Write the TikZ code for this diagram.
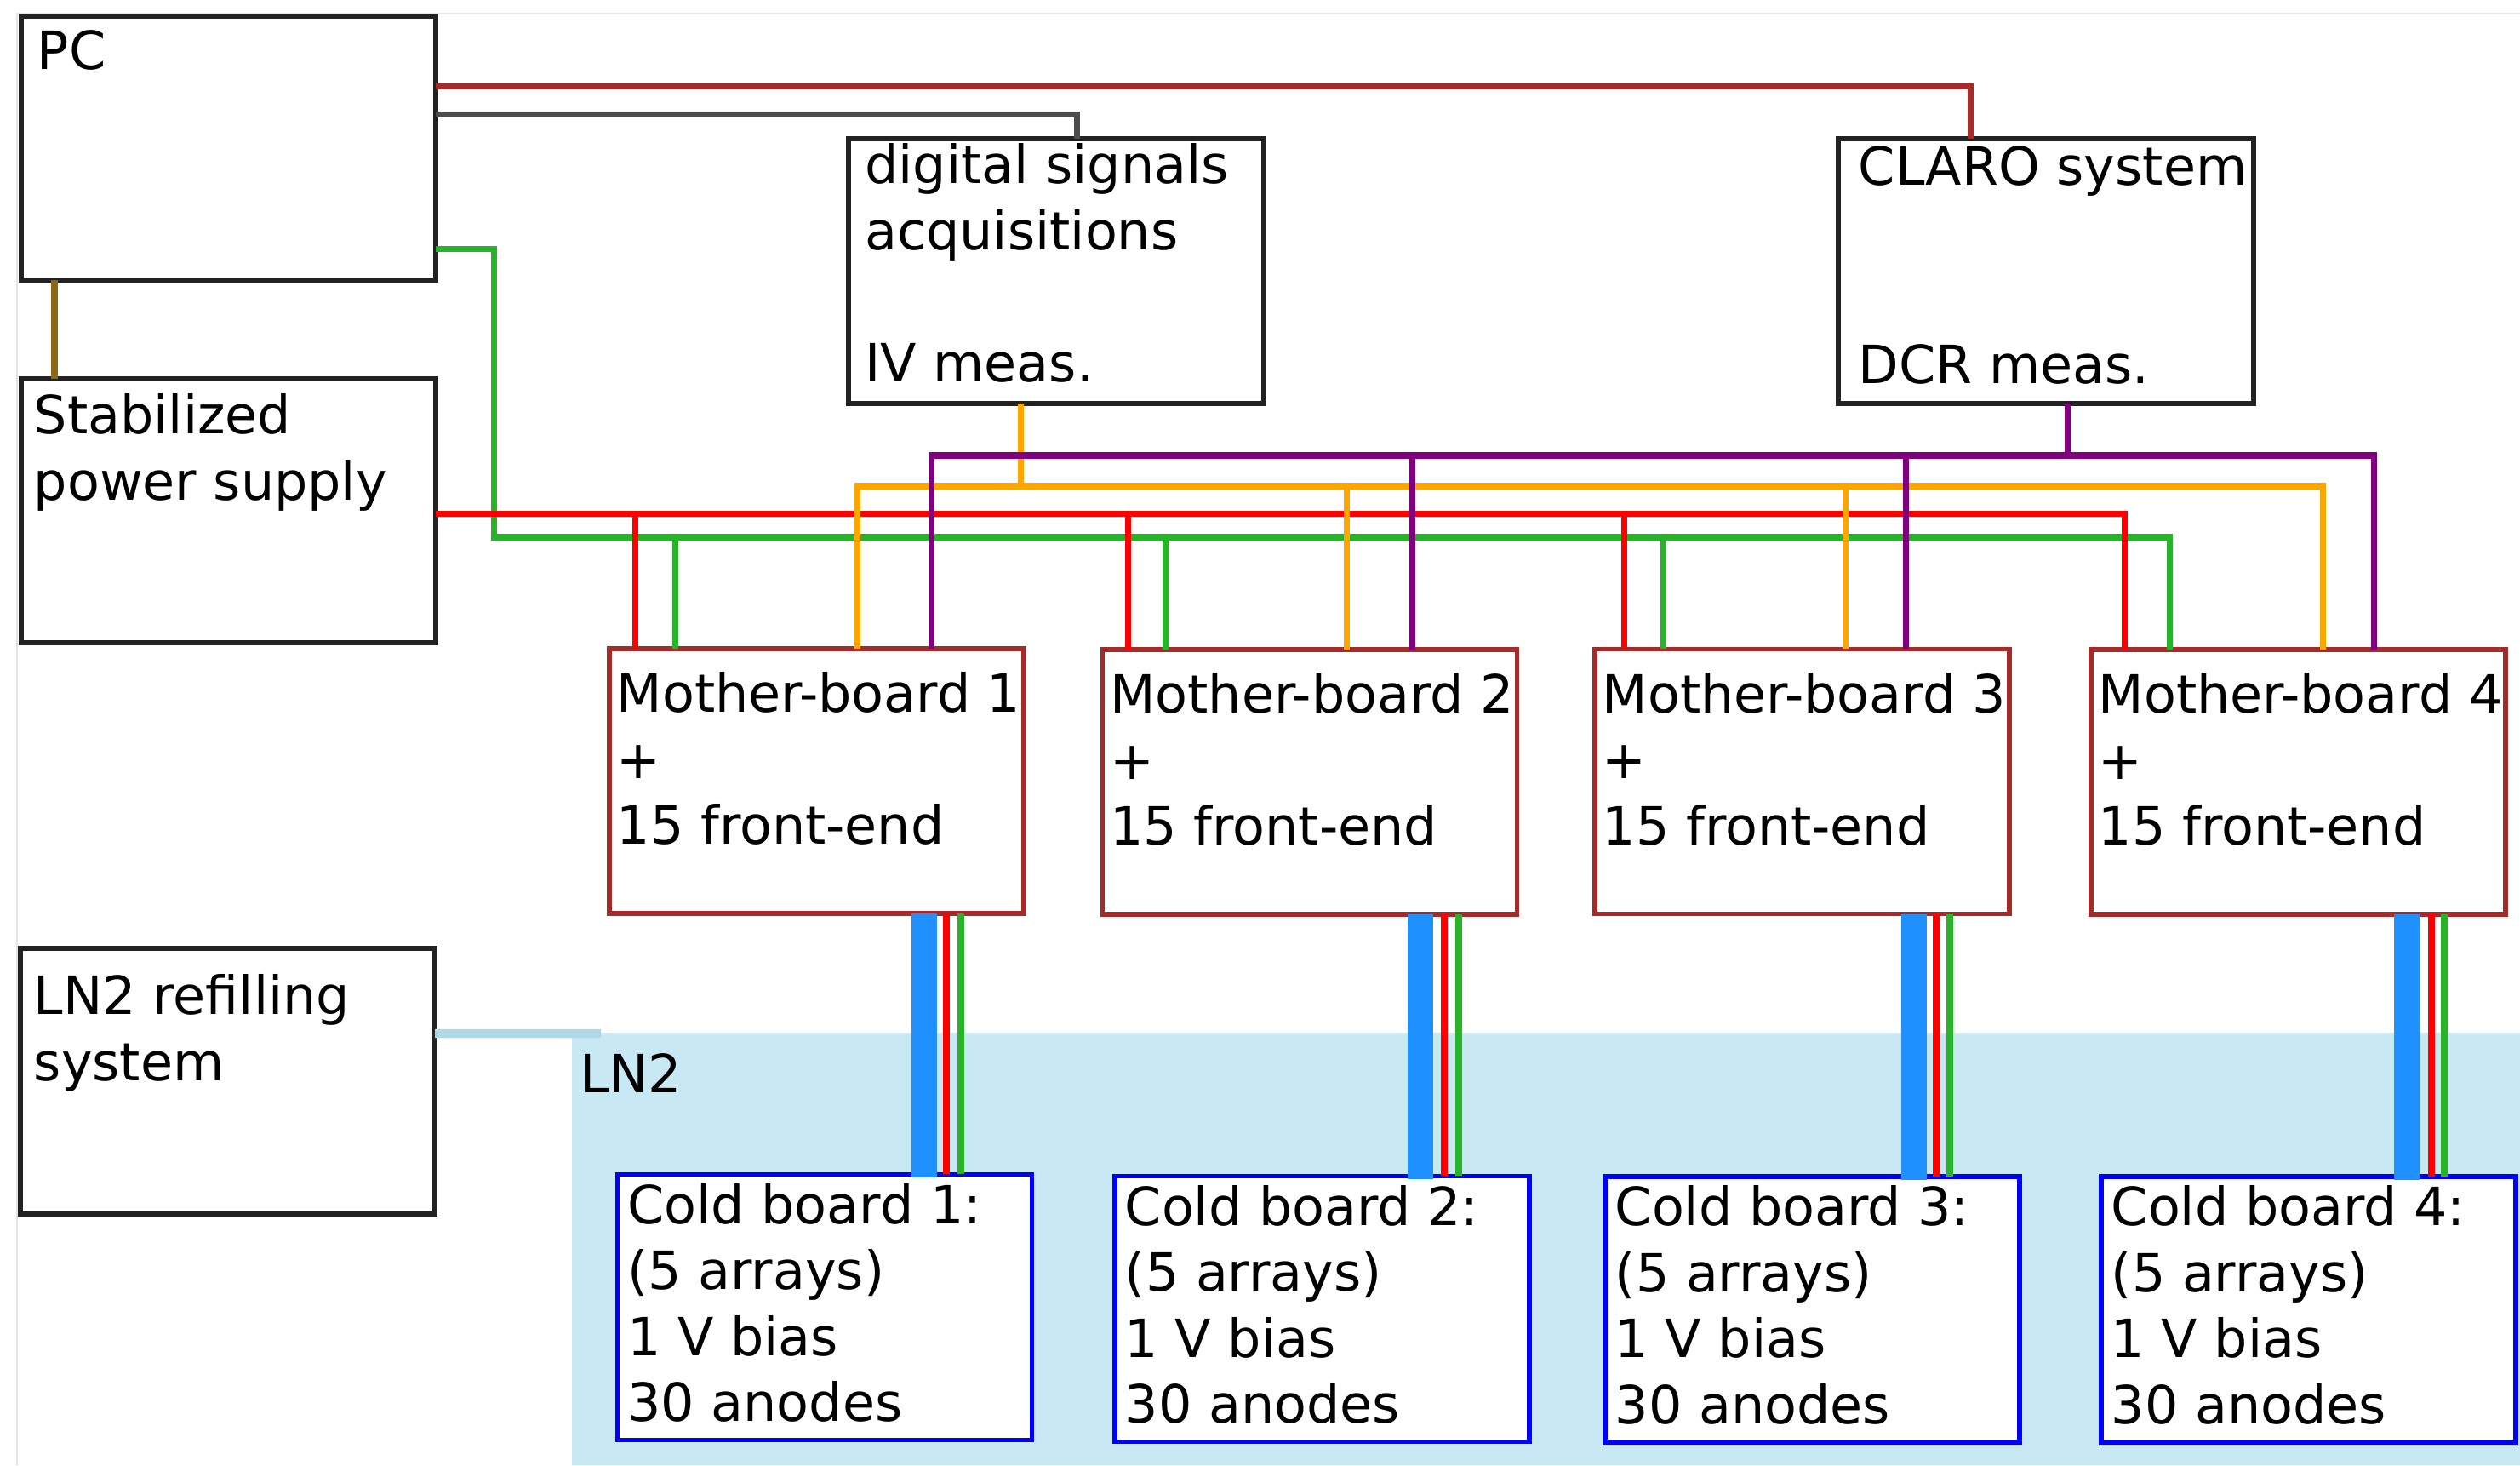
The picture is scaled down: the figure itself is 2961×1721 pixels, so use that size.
\documentclass[tikz,border=0pt]{standalone}
\usepackage{fontspec}
\setmainfont{DejaVu Sans}
\usetikzlibrary{calc}
\definecolor{boxcol}{RGB}{34,34,34}
\definecolor{cbrown}{RGB}{165,42,42}
\definecolor{cgray}{RGB}{77,77,77}
\definecolor{cgold}{RGB}{139,105,20}
\definecolor{cgreen}{RGB}{40,180,40}
\definecolor{cred}{RGB}{255,0,0}
\definecolor{corange}{RGB}{255,165,0}
\definecolor{cpurple}{RGB}{128,0,128}
\definecolor{cbar}{RGB}{30,144,255}
\definecolor{crefill}{RGB}{173,216,230}
\definecolor{cln}{RGB}{200,233,243}
\definecolor{cblue}{RGB}{0,0,255}
\definecolor{framecol}{RGB}{228,228,228}
\newcommand\mylines[1]{\vtop{\baselineskip=22pt\lineskip=0pt\lineskiplimit=-50pt\halign{##\hfil\cr#1\crcr}}}
\tikzset{
  box/.style={draw=boxcol, line width=1.7pt, fill=white, rectangle, inner sep=0pt, outer sep=0pt, minimum width=4.87cm, minimum height=3.10cm},
  mbbox/.style={box, draw=cbrown, line width=1.6pt, minimum height=3.11cm},
  cbbox/.style={box, draw=cblue, line width=1.6pt, minimum height=3.12cm},
  txt/.style={anchor=base west, inner sep=0pt, outer sep=0pt, font=\fontsize{17.6pt}{22pt}\selectfont},
  wire/.style={line width=2pt},
}
\begin{document}
\begin{tikzpicture}[x=0.01cm,y=-0.01cm]
\useasboundingbox (0,0) rectangle (2961,1721);
\fill[white] (0,0) rectangle (2961,1721);
\draw[framecol, line width=0.6pt] (20,1721) |- (2961,16);
% LN2 bath
\node[fill=cln, inner sep=0pt, outer sep=0pt, minimum width=22.89cm, minimum height=5.08cm, anchor=north west] (ln2) at (672,1213) {};
\node[txt] (ln2t) at ($(ln2.north west)+(9,70)$) {LN2};
% boxes
\node[box] (pc) at (268.5,174) {};
\node[box] (ps) at (268.5,600) {};
\node[box, minimum height=3.12cm] (refill) at (267.5,1270) {};
\node[box, minimum height=3.11cm] (dig) at (1241,318.5) {};
\node[box, minimum height=3.11cm, minimum width=4.88cm] (claro) at (2404,318.5) {};
\node[mbbox] (mb1) at (959.5,917.5) {};
\node[mbbox] (mb2) at (1539,918.5) {};
\node[mbbox] (mb3) at (2117.5,918) {};
\node[mbbox] (mb4) at (2700.5,918.5) {};
\node[cbbox] (cb1) at (969,1535.5) {};
\node[cbbox] (cb2) at (1553.5,1537.5) {};
\node[cbbox] (cb3) at (2129.5,1538) {};
\node[cbbox] (cb4) at (2712.5,1538) {};
% texts
\node[txt] (pct) at ($(pc.north west)+(19,63)$) {\mylines{PC}};
\node[txt] (pst) at ($(ps.north west)+(15,65)$) {\mylines{Stabilized\cr power supply}};
\node[txt] (refillt) at ($(refill.north west)+(16,78)$) {\mylines{LN2 refilling\cr system}};
\node[txt] (digt) at ($(dig.north west)+(19,53)$) {\mylines{digital signals\cr acquisitions\cr\cr IV meas.}};
\node[txt] (clarot) at ($(claro.north west)+(24,55)$) {\mylines{CLARO system\cr\cr\cr DCR meas.}};
\foreach \i in {1,2,3,4}{
  \node[txt] (mbt\i) at ($(mb\i.north west)+(9,75)$) {\mylines{Mother-board \i\cr +\cr 15 front-end}};
  \node[txt] (cbt\i) at ($(cb\i.north west)+(12,58)$) {\mylines{Cold board \i:\cr (5 arrays)\cr 1 V bias\cr 30 anodes}};
}
% bus levels
\coordinate (redbus) at (0,604);
\coordinate (greenbus) at (0,631);
\coordinate (orangebus) at (0,571);
\coordinate (purplebus) at (0,535);
% attachment points
\foreach \i/\r/\g/\o/\p/\b/\rb/\gb in {1/31/78/292/379/370/396/413, 2/30/74/287/364/374/402/419, 3/35/81/295/366/375/401/417, 4/40/93/273/333/371/400/415}{
  \coordinate (r\i) at ($(mb\i.north west)+(\r,0)$);
  \coordinate (g\i) at ($(mb\i.north west)+(\g,0)$);
  \coordinate (o\i) at ($(mb\i.north west)+(\o,0)$);
  \coordinate (p\i) at ($(mb\i.north west)+(\p,0)$);
  \coordinate (bb\i) at ($(mb\i.south west)+(\b,0)$);
  \coordinate (br\i) at ($(mb\i.south west)+(\rb,0)$);
  \coordinate (bg\i) at ($(mb\i.south west)+(\gb,0)$);
}
% PC connections
\draw[wire, cbrown] ($(pc.north east)+(0,83)$) -| ($(claro.north west)+(156,0)$);
\draw[wire, cgray] ($(pc.north east)+(0,116)$) -| ($(dig.north west)+(268,0)$);
\draw[line width=2.2pt, cgold] ($(pc.south west)+(39,0)$) -- ($(ps.north west)+(39,0)$);
% green bus
\draw[wire, cgreen] ($(pc.north east)+(0,274)$) -- ++(68,0) |- (g4 |- greenbus) -- (g4);
\foreach \i in {1,2,3}{\draw[wire, cgreen] (g\i |- greenbus) -- (g\i);}
% red bus
\draw[wire, cred] ($(ps.north east)+(0,159)$) -| (r4);
\foreach \i in {1,2,3}{\draw[wire, cred] (r\i |- redbus) -- (r\i);}
% orange bus
\draw[wire, corange] ($(dig.south west)+(202,0)$) coordinate (od) -- (od |- orangebus);
\draw[wire, corange] (o1) |- (o4 |- orangebus) -- (o4);
\foreach \i in {2,3}{\draw[wire, corange] (o\i |- orangebus) -- (o\i);}
% purple bus
\draw[wire, cpurple] ($(claro.south west)+(270,0)$) coordinate (pd) -- (pd |- purplebus);
\draw[wire, cpurple] (p1) |- (p4 |- purplebus) -- (p4);
\foreach \i in {2,3}{\draw[wire, cpurple] (p\i |- purplebus) -- (p\i);}
% cables to cold boards
\foreach \i in {1,2,3,4}{
  \draw[line width=8.5pt, cbar] (bb\i) -- ($(bb\i |- cb\i.north)+(0,4)$);
  \draw[line width=2.3pt, cred] (br\i) -- (br\i |- cb\i.north);
  \draw[line width=2.3pt, cgreen] (bg\i) -- (bg\i |- cb\i.north);
}
% LN2 refilling line
\draw[line width=2.9pt, crefill] ($(refill.north east)+(0,100)$) -- ($(ln2.north west)+(34,1)$);
\end{tikzpicture}
\end{document}
